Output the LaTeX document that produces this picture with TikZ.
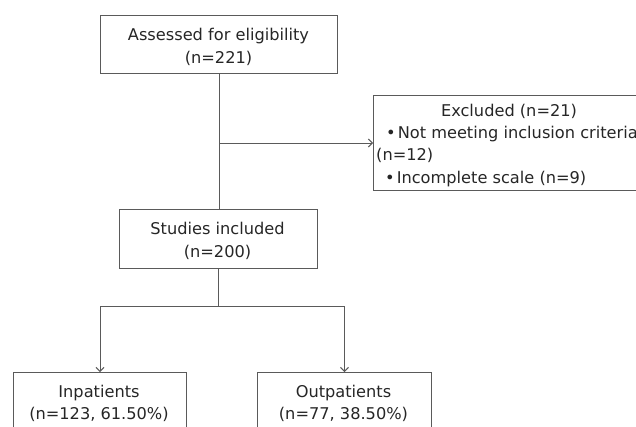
\documentclass[tikz,border=0pt]{standalone}
\usepackage{fontspec}
\setmainfont{DejaVu Sans}
\usetikzlibrary{arrows.meta}
\definecolor{linegray}{HTML}{5A5A5A}
\definecolor{textgray}{HTML}{262626}
\begin{document}
\begin{tikzpicture}[x=1pt,y=-1pt,
  box/.style={draw=linegray, line width=1pt, inner sep=0pt, anchor=north west},
  txt/.style={inner sep=0pt, anchor=base, text=textgray, font=\fontsize{16.2}{19}\selectfont},
  ltxt/.style={txt, anchor=base west},
  link/.style={draw=linegray, line width=1pt},
  arr/.style={link, -{Straight Barb[length=4pt,width=8pt]}}]
\useasboundingbox (0,0) rectangle (636,426);
\clip (0,0) rectangle (636,426);
% boxes
\node[box, minimum width=237pt, minimum height=58pt] (top) at (100,15) {};
\node[box, minimum width=198pt, minimum height=59pt] (stud) at (119,209) {};
\node[box, minimum width=320pt, minimum height=95pt] (excl) at (373,95) {};
\node[box, minimum width=173pt, minimum height=80pt] (inp) at (13,372) {};
\node[box, minimum width=174pt, minimum height=80pt] (outp) at (257,372) {};
% texts
\node[txt] (t1) at (218.5,40) {Assessed for eligibility};
\node[txt] (t2) at (218.5,63) {(n=221)};
\node[txt] (s1) at (217.5,234) {Studies included};
\node[txt] (s2) at (217.5,257) {(n=200)};
\node[txt] (e1) at (509,116) {Excluded (n=21)};
\node[ltxt] (e2) at (386,138) {•\hspace{2pt}Not meeting inclusion criteria};
\node[ltxt] (e3) at (376,160) {(n=12)};
\node[ltxt] (e4) at (385,183) {•\hspace{2pt}Incomplete scale (n=9)};
\node[txt] (i1) at (99,397) {Inpatients};
\node[txt] (i2) at (99,419) {(n=123, 61.50\%)};
\node[txt] (o1) at (343.5,397) {Outpatients};
\node[txt] (o2) at (343.5,419) {(n=77, 38.50\%)};
% connectors
\coordinate (j1) at (top.south |- excl.west);
\coordinate (j2) at (218,306);
\draw[link] (top.south) -- (top.south |- stud.north);
\draw[arr] (j1) -- (excl.west);
\draw[link] (stud.south) -- (stud.south |- j2);
\draw[arr] (j2) -| (inp.north);
\draw[arr] (j2) -| (outp.north);
\end{tikzpicture}
\end{document}
